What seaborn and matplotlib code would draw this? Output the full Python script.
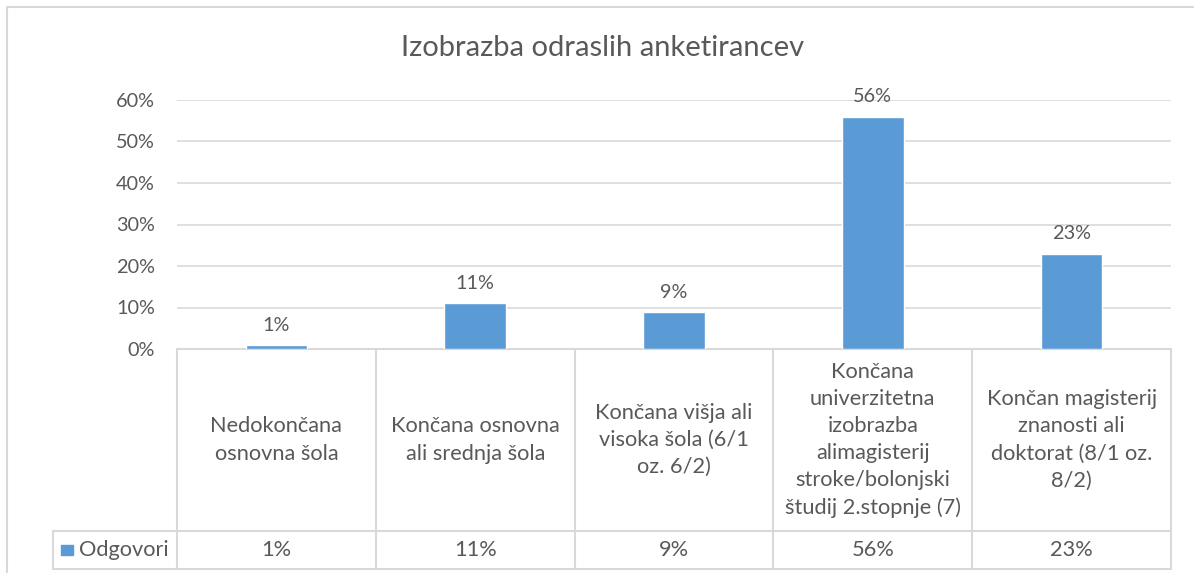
import matplotlib
matplotlib.use("Agg")
import matplotlib.pyplot as plt
import matplotlib.transforms as mtransforms
import seaborn as sns
import pandas as pd

# --- DATA ---
categories = [
    "Nedokončana\nosnovna šola",
    "Končana osnovna\nali srednja šola",
    "Končana višja ali\nvisoka šola (6/1\noz. 6/2)",
    "Končana\nuniverzitetna\nizobrazba\nalimagisterij\nstroke/bolonjski\nštudij 2.stopnje (7)",
    "Končan magisterij\nznanosti ali\ndoktorat (8/1 oz.\n8/2)",
]
values = [0.01, 0.11, 0.09, 0.56, 0.23]
series_name = "Odgovori"
y_ticks = [0, 0.1, 0.2, 0.3, 0.4, 0.5, 0.6]
title = "Izobrazba odraslih anketirancev"

BAR_COLOR = "#5B9BD5"
TEXT_COLOR = "#595959"
GRID_COLOR = "#D9D9D9"

sns.set_theme(style="white")
plt.rcParams["font.family"] = ["Lato", "DejaVu Sans"]

df = pd.DataFrame({"cat": categories, "val": values})

fig = plt.figure(figsize=(11.94, 5.73), dpi=100)
ax = fig.add_axes([177 / 1194, 1 - 349 / 573, (1171 - 177) / 1194, 249 / 573])

sns.barplot(data=df, x="cat", y="val", color=BAR_COLOR, width=0.31,
            saturation=1, ax=ax, zorder=3)

ax.set_xlim(-0.5, len(categories) - 0.5)
ax.set_ylim(0, 0.6)
ax.set_yticks(y_ticks)
ax.set_yticklabels([f"{int(round(t * 100))}%" for t in y_ticks],
                   color=TEXT_COLOR, fontsize=14.3)
ax.tick_params(axis="y", length=0, pad=16)
ax.set_xticks([])
ax.set_xlabel("")
ax.set_ylabel("")
for s in ax.spines.values():
    s.set_visible(False)
ax.yaxis.grid(True, color=GRID_COLOR, linewidth=1.2, zorder=0)
ax.set_axisbelow(True)

# value labels above bars
for p, v in zip(ax.patches, values):
    ax.annotate(f"{int(round(v * 100))}%",
                (p.get_x() + p.get_width() / 2, p.get_height()),
                xytext=(0, 8), textcoords="offset points",
                ha="center", va="bottom", fontsize=14.3, color=TEXT_COLOR)

fig.text(603 / 1194, 1 - 48 / 573, title, fontsize=21, color=TEXT_COLOR,
         ha="center", va="center")

# --- data table under the axis ---
trans = mtransforms.blended_transform_factory(ax.transData, ax.transAxes)
n = len(categories)
row1 = (349 - 531) / 249   # bottom of header row (axes coords)
row2 = (349 - 569) / 249   # bottom of value row
left_key = -0.5 + (53 - 177) / 199.0
lkw = dict(color=GRID_COLOR, linewidth=1.5, transform=trans, clip_on=False)

ax.plot([-0.5, n - 0.5], [0, 0], **lkw)
ax.plot([left_key, n - 0.5], [row1, row1], **lkw)
ax.plot([left_key, n - 0.5], [row2, row2], **lkw)
ax.plot([left_key, left_key], [row1, row2], **lkw)
for i in range(n + 1):
    ax.plot([i - 0.5, i - 0.5], [0, row2], **lkw)

for i, (c, v) in enumerate(zip(categories, values)):
    ax.text(i, row1 / 2, c, transform=trans, ha="center", va="center",
            fontsize=15.7, color=TEXT_COLOR, linespacing=1.45, clip_on=False)
    ax.text(i, (row1 + row2) / 2, f"{int(round(v * 100))}%", transform=trans,
            ha="center", va="center", fontsize=15.7, color=TEXT_COLOR)

# legend key inside the table
key_w = 12 / 199.0
kx = left_key + 8 / 199.0
ky = (row1 + row2) / 2
ax.add_patch(plt.Rectangle((kx, ky - 0.022), key_w, 0.044, transform=trans,
                           color=BAR_COLOR, clip_on=False))
ax.text(kx + key_w + 6 / 199.0, ky, series_name, transform=trans,
        ha="left", va="center", fontsize=15.7, color=TEXT_COLOR)

# chart border (top and left visible in the crop)
fig.add_artist(plt.Line2D([7 / 1194, 1], [1 - 7 / 573, 1 - 7 / 573],
                          color=GRID_COLOR, linewidth=1.5))
fig.add_artist(plt.Line2D([7 / 1194, 7 / 1194], [0, 1 - 7 / 573],
                          color=GRID_COLOR, linewidth=1.5))

fig.savefig("out.png", dpi=100, facecolor="white")
